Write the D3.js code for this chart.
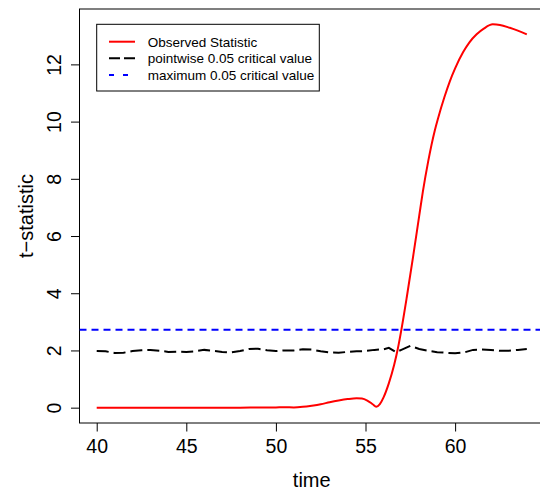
<!DOCTYPE html>
<html>
<head>
<meta charset="utf-8">
<script src="https://cdn.jsdelivr.net/npm/d3@7"></script>
<style>
  body { margin: 0; background: #fff; }
  svg { display: block; font-family: "Liberation Sans", Arial, sans-serif; }
</style>
</head>
<body>
<svg id="chart" width="540" height="494"></svg>
<script>
// observed t-statistic
var obsTime = [40, 42, 44, 46, 48, 49, 50, 50.5, 51, 51.5, 52, 52.5, 53, 53.5, 54, 54.5, 54.8, 55.1, 55.4, 55.6,
  55.8, 56, 56.3, 56.6, 56.8, 57, 57.3, 57.66, 58, 58.2, 58.5, 58.87, 59.05, 59.4, 59.7, 60, 60.45, 60.8, 61.2,
  61.6, 62.1, 62.5, 63.05, 63.5, 64]
var obsValue = [0, 0, 0, 0, 0, 0.005, 0.01, 0.015, 0.01, 0.03, 0.07, 0.12, 0.19, 0.25, 0.3, 0.33, 0.32, 0.25, 0.12, 0.03,
  0.12, 0.35, 0.85, 1.5, 2.05, 2.72, 3.85, 5.3, 6.72, 7.55, 8.62, 9.7, 10.12, 10.85, 11.4, 11.86, 12.43, 12.77, 13.05,
  13.25, 13.4, 13.38, 13.28, 13.18, 13.05]

// pointwise 0.05 critical value
var critTime = [40, 40.5, 41, 41.5, 42, 42.5, 43, 43.5, 44, 44.5, 45, 45.5, 46, 46.5, 47, 47.5, 48, 48.5, 49, 49.5,
  50, 50.5, 51, 51.5, 52, 52.5, 53, 53.5, 54, 54.5, 55, 55.5, 56, 56.3, 56.7, 57, 57.5, 58, 58.5, 59, 59.5, 60,
  60.5, 61, 61.5, 62, 62.5, 63, 63.5, 64]
var critValue = [1.98, 1.97, 1.91, 1.92, 1.98, 2.01, 2.02, 1.99, 1.95, 1.96, 1.95, 1.97, 2.02, 1.99, 1.95, 1.93, 1.98, 2.05, 2.06, 2.01,
  1.98, 2.0, 2.0, 2.04, 2.03, 1.97, 1.93, 1.92, 1.95, 1.97, 1.98, 2.02, 2.04, 2.09, 1.94, 2.02, 2.16, 2.05, 1.99, 1.94, 1.92, 1.9,
  1.93, 2.02, 2.03, 2.02, 1.99, 1.99, 2.02, 2.05]

// maximum 0.05 critical value
var maxCrit = 2.72

var xTicks = [40, 45, 50, 55, 60]
var yTicks = [0, 2, 4, 6, 8, 10, 12]
var legendLabels = ["Observed Statistic", "pointwise 0.05 critical value", "maximum 0.05 critical value"]

var svg = d3.select("#chart")
var plot = { left: 79.5, right: 544, top: 9, bottom: 423 }

// R style 4% padding on the data range
var xPad = (d3.max(obsTime) - d3.min(obsTime)) * 0.04
var yPad = (d3.max(obsValue) - d3.min(obsValue)) * 0.04

var x = d3.scaleLinear()
  .domain([d3.min(obsTime) - xPad, d3.max(obsTime) + xPad])
  .range([plot.left, plot.right])
var y = d3.scaleLinear()
  .domain([d3.min(obsValue) - yPad, d3.max(obsValue) + yPad])
  .range([plot.bottom, plot.top])

// box
svg.append("rect")
  .attr("x", plot.left).attr("y", plot.top)
  .attr("width", plot.right - plot.left).attr("height", plot.bottom - plot.top)
  .attr("fill", "none").attr("stroke", "black").attr("stroke-width", 1)

// axes
var xAxis = svg.append("g")
  .attr("transform", "translate(0," + plot.bottom + ")")
  .call(d3.axisBottom(x).tickValues(xTicks).tickSize(8.5).tickPadding(8).tickFormat(d3.format("d")))
xAxis.select(".domain").remove()
xAxis.selectAll("text").attr("font-size", "19.5px").attr("fill", "black").attr("font-family", null)

var yAxis = svg.append("g")
  .attr("transform", "translate(" + plot.left + ",0)")
  .call(d3.axisLeft(y).tickValues(yTicks).tickSize(8.5).tickFormat(d3.format("d")))
yAxis.select(".domain").remove()
yAxis.selectAll("text")
  .attr("font-size", "19.5px").attr("fill", "black").attr("font-family", null)
  .attr("x", null).attr("dy", null)
  .attr("text-anchor", "middle")
  .attr("transform", "translate(-18.5,0) rotate(-90)")

// axis titles
svg.append("text")
  .attr("x", (plot.left + plot.right) / 2).attr("y", 486.5)
  .attr("text-anchor", "middle").attr("font-size", "20px")
  .text("time")
svg.append("text")
  .attr("transform", "translate(32.5," + ((plot.top + plot.bottom) / 2) + ") rotate(-90)")
  .attr("text-anchor", "middle").attr("font-size", "20px")
  .text("t\u2212statistic")

svg.append("clipPath").attr("id", "clip")
  .append("rect")
  .attr("x", plot.left).attr("y", plot.top)
  .attr("width", plot.right - plot.left).attr("height", plot.bottom - plot.top)

var g = svg.append("g").attr("clip-path", "url(#clip)")

// max critical value line across the plot
g.append("line")
  .attr("x1", plot.left).attr("x2", plot.right)
  .attr("y1", y(maxCrit)).attr("y2", y(maxCrit))
  .attr("stroke", "blue").attr("stroke-width", 2)
  .attr("stroke-dasharray", "7,5")

var line = d3.line().x(function(d) { return x(d[0]) }).y(function(d) { return y(d[1]) })

g.append("path")
  .datum(d3.zip(critTime, critValue))
  .attr("d", line)
  .attr("fill", "none").attr("stroke", "black").attr("stroke-width", 2)
  .attr("stroke-dasharray", "12,5")

g.append("path")
  .datum(d3.zip(obsTime, obsValue))
  .attr("d", line.curve(d3.curveMonotoneX))
  .attr("fill", "none").attr("stroke", "red").attr("stroke-width", 2)

// legend
var legend = svg.append("g").attr("transform", "translate(96.7,24.3)")
legend.append("rect")
  .attr("width", 222.6).attr("height", 66.7)
  .attr("fill", "white").attr("stroke", "black").attr("stroke-width", 1)

var legendStyle = [
  { color: "red", dash: null },
  { color: "black", dash: "11,4" },
  { color: "blue", dash: "5,9" }
]

legendLabels.forEach(function(label, i) {
  var row = legend.append("g").attr("transform", "translate(0," + (17.4 + i * 16.6) + ")")
  row.append("line")
    .attr("x1", 12.3).attr("x2", 38.3)
    .attr("stroke", legendStyle[i].color).attr("stroke-width", 2)
    .attr("stroke-dasharray", legendStyle[i].dash)
  row.append("text")
    .attr("x", 51).attr("y", 4.8)
    .attr("font-size", "13.5px")
    .text(label)
})
</script>
</body>
</html>
